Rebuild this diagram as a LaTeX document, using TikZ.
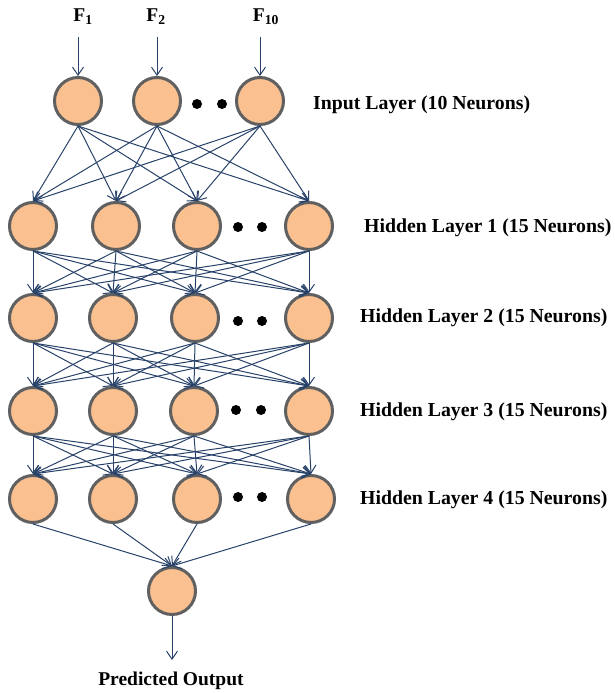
\documentclass[tikz,border=0pt]{standalone}
\usepackage{fontspec}
\setmainfont{Liberation Serif}
\usetikzlibrary{arrows.meta}
\definecolor{nfill}{RGB}{250,192,144}
\definecolor{nedge}{RGB}{96,96,96}
\definecolor{connc}{RGB}{40,66,106}
\begin{document}
\begin{tikzpicture}[x=1pt,y=-1pt,
  neuron/.style={circle,draw=nedge,fill=nfill,line width=3pt,minimum size=47pt,inner sep=0pt},
  conn/.style={draw=connc,line width=1pt,-{Straight Barb[length=8pt,width=11pt]}},
  dotn/.style={circle,fill=black,minimum size=10pt,inner sep=0pt},
  lbl/.style={font=\fontsize{19.8}{23}\selectfont\bfseries,anchor=west,inner sep=0pt},
  flbl/.style={font=\fontsize{19.5}{22}\selectfont\bfseries,inner sep=0pt}]
\useasboundingbox (0,0) rectangle (614,693);

% input layer
\node[neuron] (in1) at (78,101) {};
\node[neuron] (in2) at (157,101) {};
\node[neuron] (in3) at (260,101) {};
\node[dotn] (d0a) at (197,104) {};
\node[dotn] (d0b) at (222,104) {};

% hidden 1
\node[neuron] (a1) at (33,226) {};
\node[neuron] (a2) at (116,226) {};
\node[neuron] (a3) at (197,226) {};
\node[neuron] (a4) at (309,226) {};
\node[dotn] (d1a) at (238,227) {};
\node[dotn] (d1b) at (262,227) {};

% hidden 2
\node[neuron] (b1) at (33,318) {};
\node[neuron] (b2) at (113,318) {};
\node[neuron] (b3) at (195,318) {};
\node[neuron] (b4) at (309,318) {};
\node[dotn] (d2a) at (238,321) {};
\node[dotn] (d2b) at (262,321) {};

% hidden 3
\node[neuron] (c1) at (33,411) {};
\node[neuron] (c2) at (113,411) {};
\node[neuron] (c3) at (194,411) {};
\node[neuron] (c4) at (309,411) {};
\node[dotn] (d3a) at (236,410) {};
\node[dotn] (d3b) at (261,410) {};

% hidden 4
\node[neuron] (e1) at (33,499) {};
\node[neuron] (e2) at (113,499) {};
\node[neuron] (e3) at (197,499) {};
\node[neuron] (e4) at (311,499) {};
\node[dotn] (d4a) at (238,497) {};
\node[dotn] (d4b) at (262,497) {};

% output
\node[neuron] (out) at (172,591) {};

% labels
\node[flbl] (f1) at (83,17) {F\textsubscript{1}};
\node[flbl] (f2) at (156,17) {F\textsubscript{2}};
\node[flbl] (f3) at (266,17) {F\textsubscript{10}};
\node[lbl] (lin) at (313,105) {Input Layer (10 Neurons)};
\node[lbl] (l1) at (364,228) {Hidden Layer 1 (15 Neurons)};
\node[lbl] (l2) at (360,318) {Hidden Layer 2 (15 Neurons)};
\node[lbl] (l3) at (360,412) {Hidden Layer 3 (15 Neurons)};
\node[lbl] (l4) at (360,500) {Hidden Layer 4 (15 Neurons)};
\node[flbl] (lout) at (171,681) {Predicted Output};

% input arrows
\coordinate (s1) at (78,37);
\coordinate (s2) at (157,37);
\coordinate (s3) at (260,37);
\draw[conn] (s1) -- (in1.north);
\draw[conn] (s2) -- (in2.north);
\draw[conn] (s3) -- (in3.north);

% connections
\foreach \s in {in1,in2,in3}
  \foreach \t in {a1,a2,a3,a4}
    \draw[conn] (\s.south) -- (\t.north);
\foreach \s in {a1,a2,a3,a4}
  \foreach \t in {b1,b2,b3,b4}
    \draw[conn] (\s.south) -- (\t.north);
\foreach \s in {b1,b2,b3,b4}
  \foreach \t in {c1,c2,c3,c4}
    \draw[conn] (\s.south) -- (\t.north);
\foreach \s in {c1,c2,c3,c4}
  \foreach \t in {e1,e2,e3,e4}
    \draw[conn] (\s.south) -- (\t.north);
\foreach \s in {e1,e2,e3,e4}
  \draw[conn] (\s.south) -- (out.north);

% output arrow
\coordinate (po) at (172,660);
\draw[conn] (out.south) -- (po);
\end{tikzpicture}
\end{document}
